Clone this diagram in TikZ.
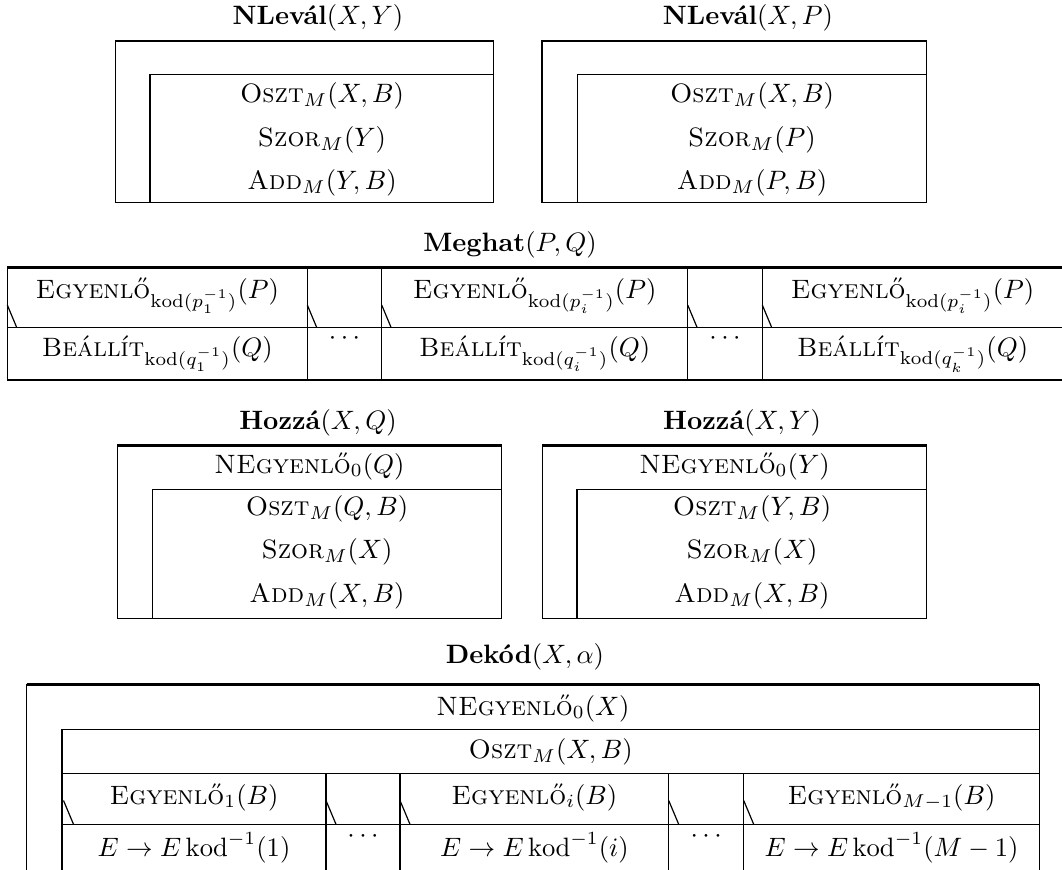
\documentclass[tikz,border=0pt]{standalone}
\usepackage{fontspec}
\begin{document}
\begin{tikzpicture}[x=0.376pt,y=-0.376pt,
  frame/.style={line width=0.55pt},
  topedge/.style={line width=0.95pt},
  lbl/.style={inner sep=0pt, anchor=center},
  ttl/.style={inner sep=0pt, anchor=center, font=\normalsize},
  slash/.style={line width=0.45pt}]
\useasboundingbox (0,0) rectangle (1062,870);
\begin{scope}
\clip (0,0) rectangle (1062,870);

% ---------- NLevál(X,Y) ----------
\node[ttl] (t1) at (318,18) {\textbf{NLevál}$(X,Y)$};
\draw[frame] (115.3,41) rectangle (493.7,202.7);
\draw[topedge] (115.3,41) -- (493.7,41);
\draw[frame] (150,202.7) |- (493.7,74.3);
\node[lbl] (a1) at (322,95.5) {\textsc{Oszt}$_M(X,B)$};
\node[lbl] (a2) at (322,139.5) {\textsc{Szor}$_M(Y)$};
\node[lbl] (a3) at (322,183) {\textsc{Add}$_M(Y,B)$};

% ---------- NLevál(X,P) ----------
\node[ttl] (t2) at (748,18) {\textbf{NLevál}$(X,P)$};
\draw[frame] (542,41) rectangle (926.7,202.7);
\draw[topedge] (542,41) -- (926.7,41);
\draw[frame] (577.3,202.7) |- (926.7,74.3);
\node[lbl] (b1) at (752,95.5) {\textsc{Oszt}$_M(X,B)$};
\node[lbl] (b2) at (752,139.5) {\textsc{Szor}$_M(P)$};
\node[lbl] (b3) at (752,183) {\textsc{Add}$_M(P,B)$};

% ---------- Meghat(P,Q) ----------
\node[ttl] (t3) at (510,245) {\textbf{Meghat}$(P,Q)$};
\draw[frame] (7.3,267.7) rectangle (1064,380);
\draw[topedge] (7.3,267.7) -- (1064,267.7);
\draw[frame] (7.3,327.7) -- (1064,327.7);
\foreach \xx in {307.3,381.7,687.7,762.3}{\draw[frame] (\xx,267.7) -- (\xx,380);}
\foreach \xx in {7.3,307.3,381.7,687.7,762.3}{\draw[slash] (\xx,305) -- (\xx+9.5,327.7);}
\node[lbl] (c1) at (157.3,296) {\textsc{Egyenlő}$_{\mathrm{kod}(p_1^{-1})}(P)$};
\node[lbl] (c2) at (534.7,296) {\textsc{Egyenlő}$_{\mathrm{kod}(p_i^{-1})}(P)$};
\node[lbl] (c3) at (912.6,296) {\textsc{Egyenlő}$_{\mathrm{kod}(p_i^{-1})}(P)$};
\node[lbl] (d1) at (157.3,354) {\textsc{Beállít}$_{\mathrm{kod}(q_1^{-1})}(Q)$};
\node[lbl] (d2) at (534.7,354) {\textsc{Beállít}$_{\mathrm{kod}(q_i^{-1})}(Q)$};
\node[lbl] (d3) at (912.6,354) {\textsc{Beállít}$_{\mathrm{kod}(q_k^{-1})}(Q)$};
\node[lbl] (dd1) at (344.5,338.5) {$\cdots$};
\node[lbl] (dd2) at (725,338.5) {$\cdots$};

% ---------- Hozzá(X,Q) ----------
\node[ttl] (t4) at (318,423) {\textbf{Hozzá}$(X,Q)$};
\draw[frame] (117.3,445.7) rectangle (501.7,618.7);
\draw[topedge] (117.3,445.7) -- (501.7,445.7);
\draw[frame] (152.3,618.7) |- (501.7,489.7);
\node[lbl] (e0) at (309.5,466) {\textsc{NEgyenlő}$_0(Q)$};
\node[lbl] (e1) at (327,509) {\textsc{Oszt}$_M(Q,B)$};
\node[lbl] (e2) at (327,552) {\textsc{Szor}$_M(X)$};
\node[lbl] (e3) at (327,595.5) {\textsc{Add}$_M(X,B)$};

% ---------- Hozzá(X,Y) ----------
\node[ttl] (t5) at (742,423) {\textbf{Hozzá}$(X,Y)$};
\draw[frame] (542.3,445.7) rectangle (926.7,618.7);
\draw[topedge] (542.3,445.7) -- (926.7,445.7);
\draw[frame] (577,618.7) |- (926.7,489.7);
\node[lbl] (f0) at (734.5,466) {\textsc{NEgyenlő}$_0(Y)$};
\node[lbl] (f1) at (752,509) {\textsc{Oszt}$_M(Y,B)$};
\node[lbl] (f2) at (752,552) {\textsc{Szor}$_M(X)$};
\node[lbl] (f3) at (752,595.5) {\textsc{Add}$_M(X,B)$};

% ---------- Dekód(X,alpha) ----------
\node[ttl] (t6) at (525,657) {\textbf{Dekód}$(X,\alpha)$};
\draw[frame] (26.7,890) |- (1039.3,684.3) -- (1039.3,890);
\draw[topedge] (26.7,684.3) -- (1039.3,684.3);
\draw[frame] (62,890) |- (1039.3,729.7);
\draw[frame] (62,773.5) -- (1039.3,773.5);
\draw[frame] (62,824.3) -- (1039.3,824.3);
\foreach \xx in {326,400,668.7,743.7}{\draw[frame] (\xx,773.5) -- (\xx,890);}
\foreach \xx in {63.5,326,400,668.7,743.7}{\draw[slash] (\xx,800.5) -- (\xx+10,824.3);}
\node[lbl] (g0) at (533,708) {\textsc{NEgyenlő}$_0(X)$};
\node[lbl] (g1) at (550.7,752) {\textsc{Oszt}$_M(X,B)$};
\node[lbl] (h1) at (194,797) {\textsc{Egyenlő}$_1(B)$};
\node[lbl] (h2) at (534.4,797) {\textsc{Egyenlő}$_i(B)$};
\node[lbl] (h3) at (891.5,797) {\textsc{Egyenlő}$_{M-1}(B)$};
\node[lbl] (k1) at (194,848) {$E\to E\,\mathrm{kod}^{-1}(1)$};
\node[lbl] (k2) at (534.4,848) {$E\to E\,\mathrm{kod}^{-1}(i)$};
\node[lbl] (k3) at (891.5,848) {$E\to E\,\mathrm{kod}^{-1}(M-1)$};
\node[lbl] (kd1) at (363,837) {$\cdots$};
\node[lbl] (kd2) at (706.2,837) {$\cdots$};
\end{scope}
\end{tikzpicture}
\end{document}
